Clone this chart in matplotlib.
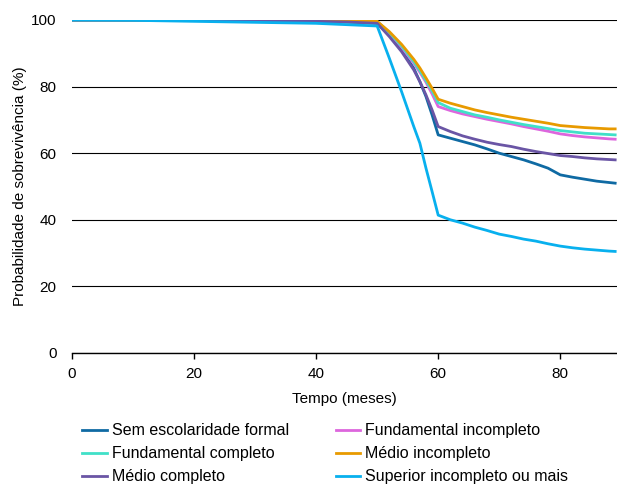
import matplotlib
matplotlib.use("Agg")
import matplotlib.pyplot as plt

plt.rcParams['font.family'] = ['Liberation Sans', 'DejaVu Sans']

months = [0, 10, 20, 30, 40, 45, 50, 52, 54, 56, 57, 58, 59, 60, 62, 64, 66, 68, 70, 72, 74, 76, 78, 80, 82, 84, 86, 88, 89]

sem_escolaridade = [100, 100, 100, 99.8, 99.6, 99.4, 99.0, 95.5, 91, 85.5, 81.5, 77, 71.5, 65.5, 64.5, 63.5, 62.5, 61.3, 60, 59, 58, 56.8, 55.5, 53.5, 52.8, 52.2, 51.6, 51.2, 51.0]
fund_incompleto = [100, 100, 100, 99.9, 99.8, 99.7, 99.5, 96, 91.8, 87, 84.3, 81.3, 77.8, 74.0, 72.8, 71.8, 71.0, 70.2, 69.5, 68.8, 68.0, 67.3, 66.6, 65.8, 65.3, 64.9, 64.6, 64.3, 64.2]
fund_completo = [100, 100, 100, 99.9, 99.8, 99.7, 99.5, 96.2, 92.2, 87.5, 84.8, 81.8, 78.7, 75.2, 73.5, 72.5, 71.5, 70.8, 70.0, 69.3, 68.6, 68.0, 67.4, 66.8, 66.4, 66.0, 65.8, 65.6, 65.5]
medio_incompleto = [100, 100, 100, 99.9, 99.8, 99.7, 99.6, 96.5, 92.7, 88.2, 85.6, 82.6, 79.5, 76.2, 75, 74, 73, 72.2, 71.5, 70.8, 70.2, 69.6, 69.0, 68.3, 68.0, 67.7, 67.5, 67.3, 67.3]
medio_completo = [100, 100, 100, 99.8, 99.6, 99.4, 99.0, 95, 90.5, 85, 81.5, 77.5, 73, 68.0, 66.5, 65.2, 64.2, 63.3, 62.6, 62.0, 61.2, 60.5, 59.9, 59.3, 59.0, 58.6, 58.3, 58.1, 58.0]
superior = [100, 99.9, 99.6, 99.3, 99.0, 98.6, 98.2, 88.5, 78.5, 68, 63, 55.5, 48.5, 41.4, 40.0, 39.0, 37.8, 36.8, 35.7, 35.0, 34.2, 33.6, 32.8, 32.1, 31.6, 31.2, 30.9, 30.6, 30.5]

labels = ["Sem escolaridade formal", "Fundamental incompleto", "Fundamental completo",
          "Médio incompleto", "Médio completo", "Superior incompleto ou mais"]
colors = ["#0f6aa3", "#dd66dd", "#40e0c8", "#e89a00", "#6a55a5", "#08b0ee"]
series = [sem_escolaridade, fund_incompleto, fund_completo, medio_incompleto, medio_completo, superior]

fig = plt.figure(figsize=(6.17, 4.86), dpi=100)
ax = fig.add_axes([72/617, 1-353/486, (617-72)/617, (353-20)/486])

for y, lab, c in zip(series, labels, colors):
    ax.plot(months, y, color=c, lw=2.0, label=lab, solid_joinstyle='round')

ax.set_xlim(0, 89.3)
ax.set_ylim(0, 100)
ax.set_xticks([0, 20, 40, 60, 80])
ax.set_yticks([0, 20, 40, 60, 80, 100])
ax.yaxis.grid(True, color='black', lw=0.8)
ax.set_axisbelow(True)
for s in ['top', 'right', 'left']:
    ax.spines[s].set_visible(False)
ax.spines['bottom'].set_color('black')
ax.spines['bottom'].set_linewidth(1.0)
ax.tick_params(axis='x', labelsize=11, direction='out', length=4, width=1.0, color='black', pad=6)
ax.tick_params(axis='y', labelsize=11, length=0, pad=11)
ax.set_xlabel("Tempo (meses)", fontsize=11, labelpad=8)
ax.set_ylabel("Probabilidade de sobrevivência (%)", fontsize=11, labelpad=3)

handles, labs = ax.get_legend_handles_labels()
order = [0, 2, 4, 1, 3, 5]
leg = fig.legend([handles[i] for i in order], [labs[i] for i in order],
                 loc='upper left', bbox_to_anchor=(68/617, 1-409/486), ncol=2,
                 frameon=False, fontsize=11.5, handlelength=1.56, handletextpad=0.3,
                 columnspacing=2.9, labelspacing=0.5)

fig.savefig("out.png", dpi=100)
